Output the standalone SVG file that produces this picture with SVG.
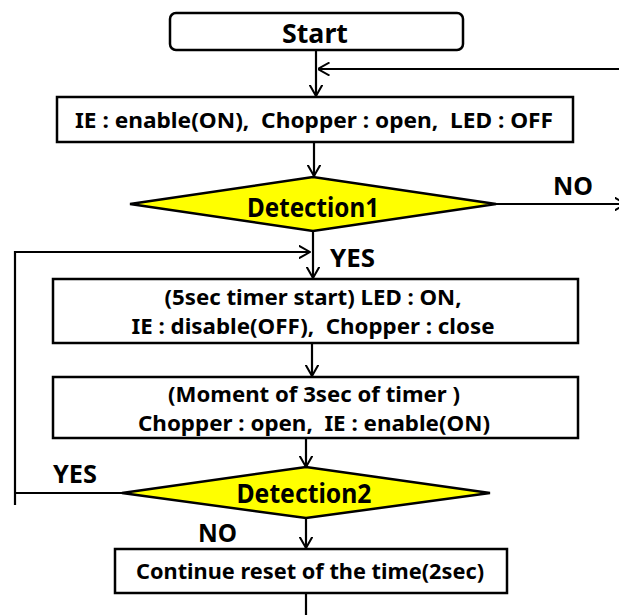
<svg xmlns="http://www.w3.org/2000/svg" width="619" height="615" viewBox="0 0 619 615">
  <style>
    .box { fill: #ffffff; stroke: #000000; stroke-width: 2.5; }
    .dec { fill: #ffff00; stroke: #000000; stroke-width: 2.5; stroke-linejoin: miter; }
    .line { fill: none; stroke: #000000; stroke-width: 2.2; }
    .arrow { marker-end: url(#head); }
    text { font-family: "Noto Sans", "Open Sans", "Liberation Sans", sans-serif; font-weight: bold; fill: #000000; white-space: pre; }
    .t { font-size: 22px; text-anchor: middle; }
    .big { font-size: 27px; text-anchor: middle; }
    .lbl { font-size: 25px; }
  </style>
  <defs>
    <marker id="head" viewBox="0 0 12 14" refX="11.5" refY="7" markerWidth="12" markerHeight="14" markerUnits="userSpaceOnUse" orient="auto">
      <path d="M0,0.5 L11.5,7 L0,13.5" fill="none" stroke="#000000" stroke-width="2"/>
    </marker>
  </defs>

  <!-- connectors -->
  <g id="connectors">
    <line class="line arrow" x1="316" y1="50" x2="316" y2="96"/>
    <line class="line arrow" x1="619" y1="69" x2="318" y2="69"/>
    <line class="line arrow" x1="314" y1="142" x2="314" y2="176"/>
    <line class="line arrow" x1="496" y1="204" x2="626" y2="204"/>
    <line class="line arrow" x1="313" y1="231" x2="313" y2="278"/>
    <path class="line arrow" d="M15,505 V252 H310"/>
    <line class="line" x1="122" y1="493" x2="15" y2="493"/>
    <line class="line arrow" x1="312" y1="343" x2="312" y2="376"/>
    <line class="line arrow" x1="306" y1="438" x2="306" y2="467"/>
    <line class="line arrow" x1="306" y1="518" x2="306" y2="548"/>
    <line class="line" x1="306" y1="593" x2="306" y2="615"/>
    <text class="lbl" x="553" y="195" textLength="40" lengthAdjust="spacingAndGlyphs">NO</text>
    <text class="lbl" x="330" y="267" textLength="45" lengthAdjust="spacingAndGlyphs">YES</text>
    <text class="lbl" x="53" y="483" textLength="44" lengthAdjust="spacingAndGlyphs">YES</text>
    <text class="lbl" x="198" y="542" textLength="39" lengthAdjust="spacingAndGlyphs">NO</text>
  </g>

  <g id="start">
    <rect class="box" x="170" y="13" width="293" height="37" rx="6" ry="6"/>
    <text class="big" x="315" y="43" font-size="29" textLength="66" lengthAdjust="spacingAndGlyphs">Start</text>
  </g>

  <g id="init">
    <rect class="box" x="57" y="97" width="516" height="45"/>
    <text class="t" x="314" y="128" textLength="478" lengthAdjust="spacingAndGlyphs">IE : enable(ON),  Chopper : open,  LED : OFF</text>
  </g>

  <g id="detection1">
    <polygon class="dec" points="130,204 313,177 496,204 313,231"/>
    <text class="big" x="313" y="217" textLength="132" lengthAdjust="spacingAndGlyphs">Detection1</text>
  </g>

  <g id="timer-start">
    <rect class="box" x="53" y="279" width="525" height="64"/>
    <text class="t" x="313" y="305" textLength="297" lengthAdjust="spacingAndGlyphs">(5sec timer start) LED : ON,</text>
    <text class="t" x="313" y="334" textLength="363" lengthAdjust="spacingAndGlyphs">IE : disable(OFF),  Chopper : close</text>
  </g>

  <g id="timer-3sec">
    <rect class="box" x="53" y="377" width="525" height="61"/>
    <text class="t" x="314" y="402" textLength="292" lengthAdjust="spacingAndGlyphs">(Moment of 3sec of timer )</text>
    <text class="t" x="314" y="431" textLength="352" lengthAdjust="spacingAndGlyphs">Chopper : open,  IE : enable(ON)</text>
  </g>

  <g id="detection2">
    <polygon class="dec" points="122,493 306,467 490,493 306,518"/>
    <text class="big" x="304" y="503" textLength="135" lengthAdjust="spacingAndGlyphs">Detection2</text>
  </g>

  <g id="reset">
    <rect class="box" x="115" y="549" width="392" height="44"/>
    <text class="t" x="310" y="579" textLength="348" lengthAdjust="spacingAndGlyphs">Continue reset of the time(2sec)</text>
  </g>
</svg>
